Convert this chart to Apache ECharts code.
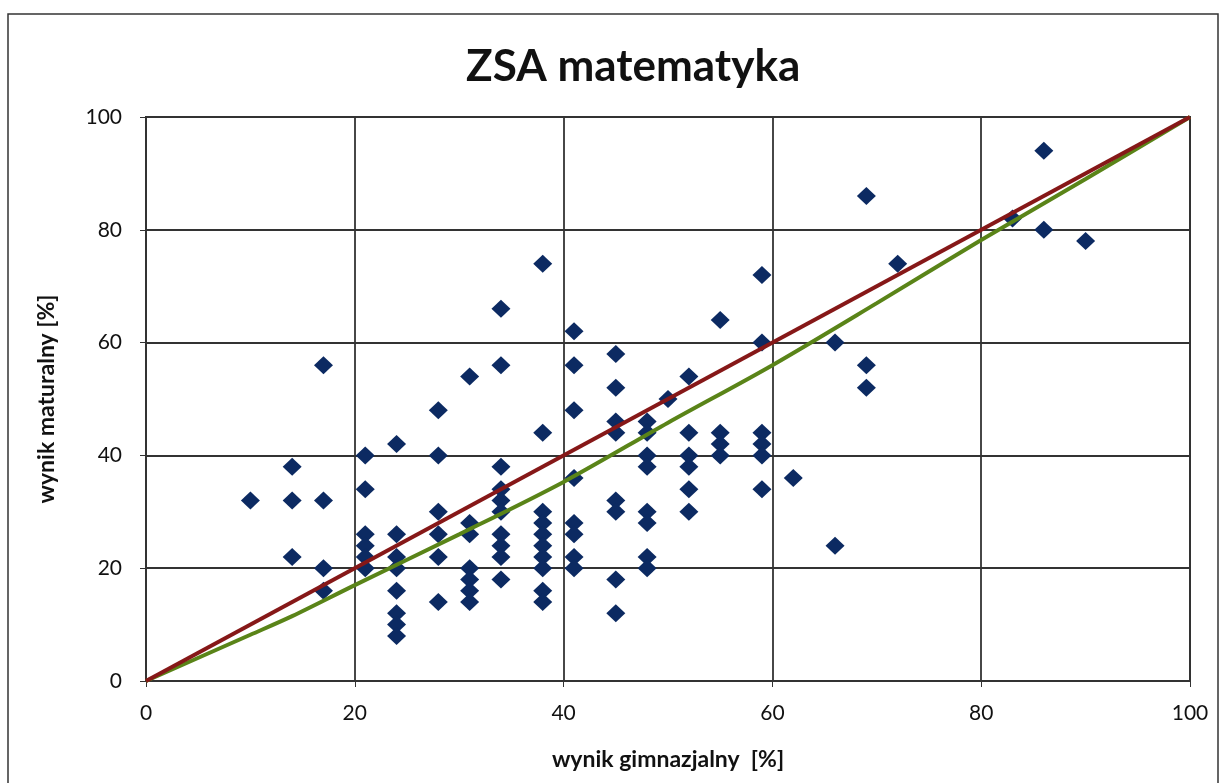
<!DOCTYPE html>
<html>
<head>
<meta charset="utf-8">
<script src="https://cdn.jsdelivr.net/npm/echarts@6/dist/echarts.min.js"></script>
<style>
  html, body { margin: 0; padding: 0; background: #fff; }
  #chart { width: 1227px; height: 783px; }
</style>
</head>
<body>
<div id="chart"></div>
<script>
// wynik gimnazjalny (x) -> list of wynik maturalny (y) at that x
const gimX = [10, 14, 17, 21, 24, 28, 31, 34, 38, 41, 45, 48, 50, 52, 55, 59, 62, 66, 69, 72, 83, 86, 90];
const matY = [
  [32],
  [38, 32, 22],
  [56, 32, 20, 16],
  [40, 34, 26, 24, 22, 20],
  [42, 26, 22, 20, 16, 12, 10, 8],
  [48, 40, 30, 26, 22, 14],
  [54, 28, 26, 20, 18, 16, 14],
  [66, 56, 38, 34, 32, 30, 26, 24, 22, 18],
  [74, 44, 30, 28, 26, 24, 22, 20, 16, 14],
  [62, 56, 48, 36, 28, 26, 22, 20],
  [58, 52, 46, 44, 32, 30, 18, 12],
  [46, 44, 40, 38, 30, 28, 22, 20],
  [50],
  [54, 44, 40, 38, 34, 30],
  [64, 44, 42, 40],
  [72, 60, 44, 42, 40, 34],
  [36],
  [60, 24],
  [86, 56, 52],
  [74],
  [82],
  [94, 80],
  [78]
];

// red line (diagonal)
const diagX = [0, 100];
const diagY = [0, 100];

// green line
const trendX = [0, 10, 14, 20, 30, 40, 50, 60, 70, 80, 90, 100];
const trendY = [0, 8.2, 11.5, 17, 26, 35.3, 45.8, 56, 67, 78.2, 89, 100];

const ticks = [0, 20, 40, 60, 80, 100];

let points = [];
gimX.forEach((x, i) => {
  matY[i].forEach((y) => {
    points.push([x, y]);
  });
});
const diagData = diagX.map((x, i) => [x, diagY[i]]);
const trendData = trendX.map((x, i) => [x, trendY[i]]);

const gridColor = "#333";
const font = "Lato, 'Open Sans', sans-serif";

let chart = echarts.init(document.getElementById("chart"));
let option = {
  backgroundColor: "#fff",
  animation: false,
  title: {
    text: "ZSA matematyka",
    left: 461,
    top: 40,
    textStyle: {
      fontFamily: font,
      fontSize: 44,
      fontWeight: "bold",
      color: "#111",
    },
  },
  graphic: [
    {
      type: "rect",
      shape: { x: 8, y: 14, width: 1210, height: 790 },
      style: { fill: null, stroke: "#333", lineWidth: 1.5 },
      silent: true,
    },
  ],
  grid: {
    left: 146,
    right: 37,
    top: 117,
    bottom: 102,
    show: true,
    borderColor: gridColor,
    borderWidth: 2,
    outerBoundsMode: "none",
  },
  xAxis: {
    type: "value",
    min: ticks[0],
    max: ticks[ticks.length - 1],
    interval: 20,
    name: "wynik gimnazjalny  [%]",
    nameLocation: "middle",
    nameGap: 67,
    nameTextStyle: {
      fontFamily: font,
      fontSize: 23,
      fontWeight: "bold",
      color: "#111",
    },
    axisLine: { show: true, lineStyle: { color: gridColor, width: 2 } },
    axisTick: { show: true, length: 6, lineStyle: { color: gridColor } },
    axisLabel: {
      margin: 22,
      fontFamily: font,
      fontSize: 21,
      color: "#111",
    },
    splitLine: { show: true, lineStyle: { color: gridColor, width: 1.8 } },
  },
  yAxis: {
    type: "value",
    min: ticks[0],
    max: ticks[ticks.length - 1],
    interval: 20,
    name: "wynik maturalny [%]",
    nameLocation: "middle",
    nameGap: 88,
    nameTextStyle: {
      fontFamily: font,
      fontSize: 23,
      fontWeight: "bold",
      color: "#111",
    },
    axisLine: { show: true, lineStyle: { color: gridColor, width: 2 } },
    axisTick: { show: true, length: 6, lineStyle: { color: gridColor } },
    axisLabel: {
      margin: 24,
      fontFamily: font,
      fontSize: 21,
      color: "#111",
    },
    splitLine: { show: true, lineStyle: { color: gridColor, width: 1.8 } },
  },
  series: [
    {
      name: "wyniki",
      type: "scatter",
      symbol: "diamond",
      symbolSize: [19, 18],
      itemStyle: { color: "#0c2a62", opacity: 1 },
      data: points,
      z: 2,
    },
    {
      name: "przekątna",
      type: "line",
      symbol: "none",
      lineStyle: { color: "#861818", width: 4 },
      data: diagData,
      z: 4,
    },
    {
      name: "trend",
      type: "line",
      symbol: "none",
      smooth: 0.3,
      lineStyle: { color: "#5a8418", width: 4 },
      data: trendData,
      z: 3,
    },
  ],
};
chart.setOption(option);
</script>
</body>
</html>
